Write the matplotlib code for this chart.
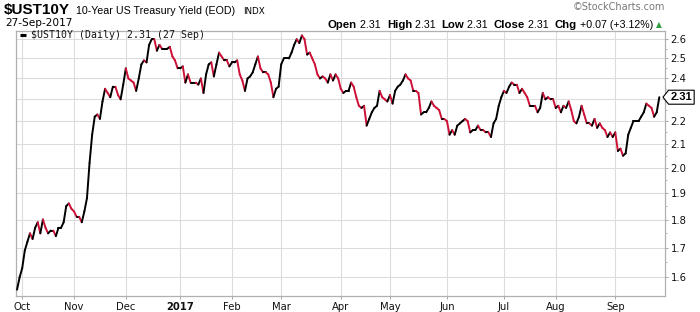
import numpy as np
import pandas as pd
import matplotlib
matplotlib.use('Agg')
import matplotlib.pyplot as plt
from matplotlib.collections import LineCollection
from matplotlib.ticker import FixedLocator, NullFormatter
from matplotlib.path import Path

plt.rcParams['font.family'] = ['Liberation Sans', 'DejaVu Sans']

# trading calendar (bond market)
start_date = '2016-09-29'
end_date = '2017-09-27'
bond_holidays = ['2016-10-10', '2016-11-11', '2016-11-24', '2016-12-26', '2017-01-02',
                 '2017-01-16', '2017-02-20', '2017-04-14', '2017-05-29', '2017-07-04',
                 '2017-09-04']

# daily closes, month by month
sep16 = [1.56, 1.60]
oct16 = [1.63, 1.69, 1.72, 1.75, 1.73, 1.77, 1.79, 1.75, 1.80, 1.77, 1.75, 1.76, 1.76, 1.74,
         1.77, 1.77, 1.79, 1.85, 1.86, 1.84]
nov16 = [1.83, 1.81, 1.81, 1.79, 1.83, 1.88, 2.02, 2.14, 2.22, 2.23, 2.21, 2.29, 2.35, 2.33,
         2.31, 2.36, 2.36, 2.32, 2.30, 2.37]
dec16 = [2.45, 2.40, 2.39, 2.38, 2.34, 2.40, 2.47, 2.49, 2.48, 2.57, 2.60, 2.60, 2.54, 2.57,
         2.55, 2.55, 2.55, 2.56, 2.51, 2.49, 2.45]
jan17 = [2.45, 2.46, 2.38, 2.42, 2.38, 2.38, 2.38, 2.37, 2.40, 2.33, 2.42, 2.47, 2.48, 2.41,
         2.47, 2.53, 2.51, 2.49, 2.49, 2.46]
feb17 = [2.48, 2.48, 2.49, 2.42, 2.39, 2.34, 2.40, 2.41, 2.43, 2.47, 2.51, 2.45, 2.43, 2.43,
         2.42, 2.38, 2.31, 2.35, 2.36]
mar17 = [2.47, 2.50, 2.50, 2.50, 2.53, 2.57, 2.60, 2.58, 2.62, 2.60, 2.52, 2.53, 2.50, 2.47,
         2.42, 2.40, 2.41, 2.40, 2.38, 2.42, 2.39, 2.42, 2.40]
apr17 = [2.35, 2.33, 2.34, 2.34, 2.38, 2.36, 2.31, 2.27, 2.26, 2.27, 2.18, 2.21, 2.24, 2.26,
         2.27, 2.34, 2.31, 2.30, 2.29]
may17 = [2.32, 2.28, 2.34, 2.36, 2.37, 2.39, 2.42, 2.40, 2.39, 2.34, 2.34, 2.33, 2.23, 2.24,
         2.24, 2.26, 2.29, 2.27, 2.26, 2.25, 2.21, 2.21]
jun17 = [2.20, 2.14, 2.16, 2.14, 2.18, 2.19, 2.20, 2.21, 2.20, 2.15, 2.16, 2.16, 2.18, 2.16,
         2.16, 2.15, 2.15, 2.13, 2.19, 2.21, 2.27, 2.31]
jul17 = [2.34, 2.33, 2.36, 2.38, 2.37, 2.37, 2.33, 2.35, 2.33, 2.31, 2.27, 2.27, 2.27, 2.24,
         2.26, 2.33, 2.30, 2.31, 2.30, 2.30]
aug17 = [2.26, 2.27, 2.24, 2.27, 2.26, 2.29, 2.25, 2.20, 2.19, 2.22, 2.27, 2.23, 2.19, 2.19,
         2.18, 2.21, 2.17, 2.19, 2.17, 2.16, 2.13, 2.15, 2.13]
sep17 = [2.15, 2.07, 2.08, 2.05, 2.06, 2.14, 2.17, 2.20, 2.20, 2.20, 2.22, 2.24, 2.28, 2.27,
         2.26, 2.22, 2.24, 2.31]

y_ticks = [1.6, 1.7, 1.8, 1.9, 2.0, 2.1, 2.2, 2.3, 2.4, 2.5, 2.6]

yields = np.array(sep16 + oct16 + nov16 + dec16 + jan17 + feb17 + mar17 + apr17 + may17 +
                  jun17 + jul17 + aug17 + sep17)
dates = pd.bdate_range(start_date, end_date, freq='C', holidays=bond_holidays)
x = np.arange(len(yields))

up_color = 'black'
down_color = '#cc1036'

W, H = 700, 312
fig = plt.figure(figsize=(W / 100, H / 100), dpi=100)


def fx(px):
    return px / W


def fy(py):
    return 1 - py / H


ax = fig.add_axes([fx(16), fy(296), fx(649), 265 / H])
ax.set_yscale('log')
ax.set_ylim(1.540, 2.644)
ax.set_xlim(-0.4, 250.2)

# line coloured black on up days, red on down days
pts = np.column_stack([x, yields])
segs = np.stack([pts[:-1], pts[1:]], axis=1)
seg_colors = np.where(np.diff(yields) >= 0, up_color, down_color)
lc = LineCollection(segs, colors=seg_colors, linewidths=1.4, capstyle='round',
                    joinstyle='round', zorder=3)
ax.add_collection(lc)

# month ticks at first trading day of each month
month_pos = [i for i in range(1, len(dates)) if dates[i].month != dates[i - 1].month]
month_lbl = ['2017' if dates[i].month == 1 else dates[i].strftime('%b') for i in month_pos]
ax.set_xticks(month_pos)
ax.set_xticklabels(month_lbl, family='DejaVu Sans', fontsize=7.2, color='#111111')
for lbl in ax.get_xticklabels():
    if lbl.get_text() == '2017':
        lbl.set_fontweight('bold')

# the current-value tag hides the label closest to it
last = yields[-1]
ax.yaxis.tick_right()
ax.set_yticks(y_ticks)
ax.set_yticklabels(['' if abs(v - last) < 0.03 else f'{v:.1f}' for v in y_ticks],
                   family='DejaVu Sans', fontsize=7.2, color='#111111')
ax.yaxis.set_minor_locator(FixedLocator([v + 0.05 for v in y_ticks]))
ax.yaxis.set_minor_formatter(NullFormatter())
ax.tick_params(axis='y', which='major', length=2.5, width=0.6, color='#999999', pad=1.5)
ax.tick_params(axis='y', which='minor', length=1.5, width=0.5, color='#999999')
ax.tick_params(axis='x', length=2, width=0.6, color='#999999', pad=2)

ax.grid(True, which='major', color='#dcdcdc', linewidth=0.8)
ax.set_axisbelow(True)
for sp in ax.spines.values():
    sp.set_color('#b0b0b0')
    sp.set_linewidth(0.9)

# legend line inside plot
ax.plot([0.006, 0.016], [0.985, 0.985], transform=ax.transAxes, color='black', lw=2.2,
        solid_capstyle='butt', zorder=4)
fig.text(fx(31), fy(35.5), r'\$UST10Y (Daily) 2.31 (27 Sep)', family='DejaVu Sans Mono',
         fontsize=7.1, va='center', ha='left', color='#111111')


# tag with current value
def tag_box(x0, y0, width, height, mutation_size):
    pad = 0.18 * mutation_size
    x0, y0 = x0 - pad, y0 - pad
    x1, y1 = x0 + width + 2 * pad, y0 + height + 2 * pad
    tip = (y1 - y0) * 0.4
    return Path([(x0, y0), (x1, y0), (x1, y1), (x0, y1), (x0 - tip, (y0 + y1) / 2), (x0, y0)],
                closed=True)


ax.annotate(f'{last:.2f}', xy=(1, last), xycoords=('axes fraction', 'data'),
            xytext=(4, 0), textcoords='offset points', ha='left', va='center',
            fontsize=8, fontweight='bold', annotation_clip=False,
            bbox=dict(boxstyle=tag_box, fc='white', ec='black', lw=0.8))

# header
fig.text(fx(4), fy(14), r'\$UST10Y', fontsize=11, fontweight='bold', va='baseline')
fig.text(fx(76), fy(14), '10-Year US Treasury Yield (EOD)', fontsize=7.7, va='baseline')
fig.text(fx(243), fy(14), 'INDX', family='DejaVu Sans', fontsize=6.3, va='baseline')
fig.text(fx(5), fy(26.5), '27-Sep-2017', family='DejaVu Sans', fontsize=7.6, va='baseline')
fig.text(fx(665), fy(7), '©StockCharts.com', family='DejaVu Sans', fontsize=7,
         color='#777777', ha='right', va='center')

pieces = [('Open', 'bold'), (' 2.31  ', 'normal'), ('High', 'bold'), (' 2.31  ', 'normal'),
          ('Low', 'bold'), (' 2.31  ', 'normal'), ('Close', 'bold'), (' 2.31  ', 'normal'),
          ('Chg', 'bold'), (' +0.07 (+3.12%) ', 'normal')]
prev = None
for txt, wt in pieces:
    size = 8.2 if wt == 'bold' else 7.7
    if prev is None:
        prev = fig.text(fx(328), fy(30), txt, fontsize=size, fontweight=wt, va='bottom')
    else:
        prev = ax.annotate(txt, xy=(1, 0), xycoords=prev, fontsize=size, fontweight=wt,
                           va='bottom', ha='left', annotation_clip=False)
ax.annotate('▲', xy=(1, 0.1), xycoords=prev, fontsize=5.5, color='#2e9e3e', va='bottom',
            ha='left', family='DejaVu Sans', annotation_clip=False)

fig.savefig('out.png', dpi=100)
